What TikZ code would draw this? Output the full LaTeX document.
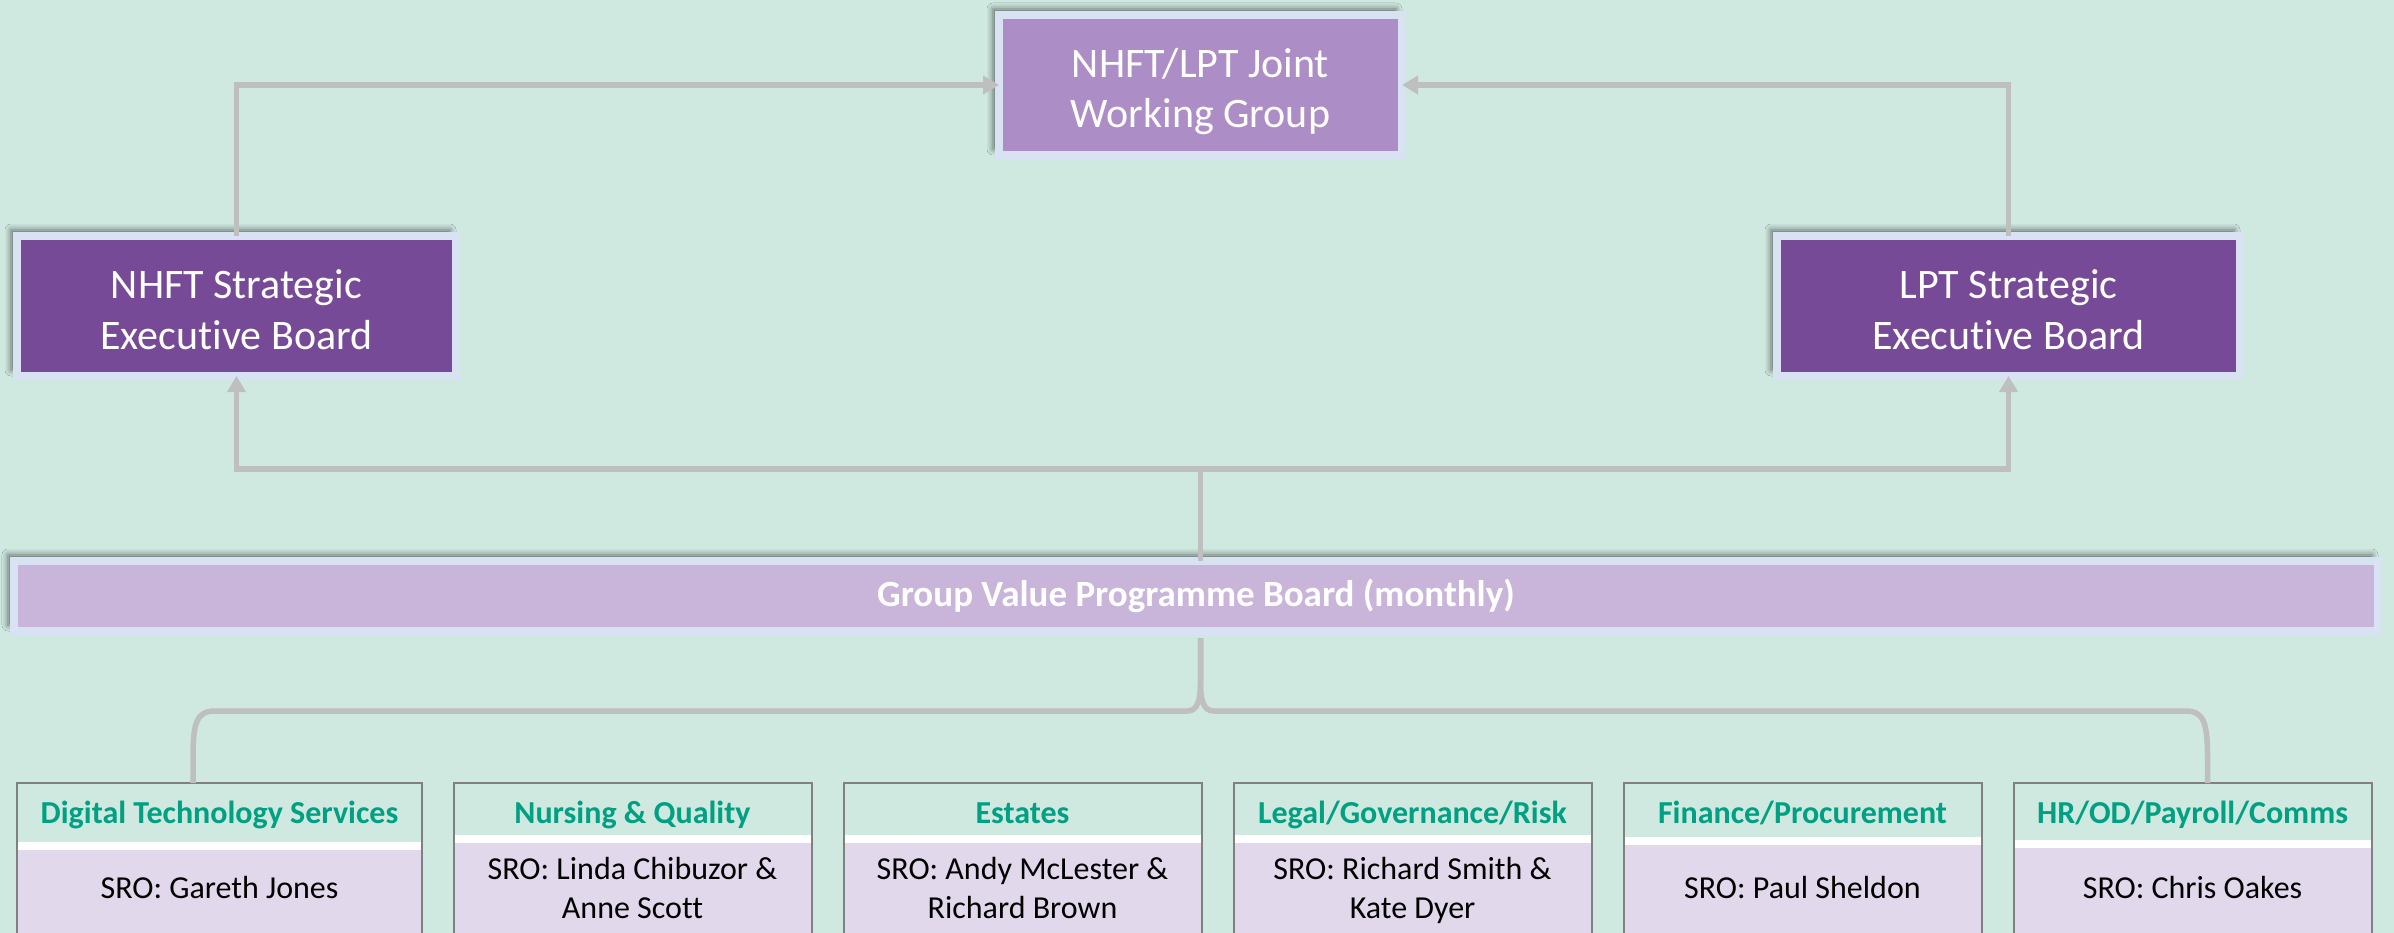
\documentclass[tikz,border=0pt]{standalone}
\usepackage{fontspec}
\setmainfont{Carlito}[Ligatures={TeX,NoCommon}]
\usetikzlibrary{arrows.meta,shadows.blur,calc}

\definecolor{canvasbg}{HTML}{CFE8E0}
\definecolor{rim}{HTML}{D9E2F3}
\definecolor{jointfill}{HTML}{AD8DC6}
\definecolor{execfill}{HTML}{764A96}
\definecolor{gvpfill}{HTML}{C9B4DA}
\definecolor{panefill}{HTML}{E2D8EC}
\definecolor{linkgray}{HTML}{BFBFBF}
\definecolor{framegray}{HTML}{808080}
\definecolor{headteal}{HTML}{00A082}

% fixed line box for the large board titles
\newcommand{\titlestrut}{\rule[-7pt]{0pt}{50pt}}

\begin{document}
\begin{tikzpicture}[x=1pt,y=-1pt,
  board/.style={draw=rim, line width=8pt, outer sep=0pt, inner sep=0pt,
    align=center, text=white,
    blur shadow={shadow xshift=-6pt, shadow yshift=6pt,
      shadow blur radius=6pt, shadow opacity=55}},
  bigtext/.style={font=\fontsize{42}{50}\selectfont},
  link/.style={draw=linkgray, line width=5.5pt},
  pointer/.style={-{Triangle[length=16pt,width=18pt]}},
  pane/.style={draw=framegray, line width=2pt, outer sep=0pt,
    minimum height=180pt,
    path picture={
      \fill[white] ($(path picture bounding box.north west)+(0,#1)$)
        rectangle (path picture bounding box.south east);
      \fill[panefill] ($(path picture bounding box.north west)+(0,#1+8)$)
        rectangle (path picture bounding box.south east);
    }},
  headtext/.style={anchor=base, inner sep=0pt, text=headteal,
    font=\fontsize{32}{39}\selectfont\bfseries},
  bodytext/.style={anchor=center, inner sep=0pt, align=center, text=black,
    font=\fontsize{32}{39}\selectfont}
]
\useasboundingbox (0,0) rectangle (2394,933);
\fill[canvasbg] (0,0) rectangle (2394,933);
\clip (0,0) rectangle (2394,933);

% governance boards
\node[board, bigtext, fill=jointfill, minimum width=403pt, minimum height=140pt]
  (jwg) at (1200.5,85) {\titlestrut NHFT/LPT Joint\\\titlestrut Working Group};
\node[board, bigtext, fill=execfill, minimum width=439pt, minimum height=140pt]
  (nhft) at (236.5,306) {\titlestrut NHFT Strategic\\\titlestrut Executive Board};
\node[board, bigtext, fill=execfill, minimum width=463pt, minimum height=140pt]
  (lpt) at (2008.5,306) {\titlestrut LPT Strategic\\\titlestrut Executive Board};
\node[board, fill=gvpfill, minimum width=2364pt, minimum height=70pt,
  font=\fontsize{37}{44}\selectfont\bfseries]
  (gvp) at (1196,596) {Group Value Programme Board (monthly)};

% workstream panes
\node[pane=59, minimum width=405pt] (dts) at (219.5,873) {};
\node[pane=52, minimum width=358pt] (nq)  at (632.5,873) {};
\node[pane=52, minimum width=358pt] (est) at (1022.5,873) {};
\node[pane=52, minimum width=358pt] (lgr) at (1412.5,873) {};
\node[pane=54, minimum width=358pt] (fp)  at (1802.5,873) {};
\node[pane=57, minimum width=358pt] (hr)  at (2192.5,873) {};

\node[headtext] (dtsh) at ($(dts.north)+(0,40)$) {Digital Technology Services};
\node[headtext] (nqh)  at ($(nq.north)+(0,40)$)  {Nursing \& Quality};
\node[headtext] (esth) at ($(est.north)+(0,40)$) {Estates};
\node[headtext] (lgrh) at ($(lgr.north)+(0,40)$) {Legal/Governance/Risk};
\node[headtext] (fph)  at ($(fp.north)+(0,40)$)  {Finance/Procurement};
\node[headtext] (hrh)  at ($(hr.north)+(0,40)$)  {HR/OD/Payroll/Comms};

\node[bodytext] (dtsb) at ($(dts.north)+(0,108)$) {\strut SRO: Gareth Jones};
\node[bodytext] (nqb)  at ($(nq.north)+(0,108)$)  {\strut SRO: Linda Chibuzor \&\\\strut Anne Scott};
\node[bodytext] (estb) at ($(est.north)+(0,108)$) {\strut SRO: Andy McLester \&\\\strut Richard Brown};
\node[bodytext] (lgrb) at ($(lgr.north)+(0,108)$) {\strut SRO: Richard Smith \&\\\strut Kate Dyer};
\node[bodytext] (fpb)  at ($(fp.north)+(0,108)$)  {\strut SRO: Paul Sheldon};
\node[bodytext] (hrb)  at ($(hr.north)+(0,108)$)  {\strut SRO: Chris Oakes};

% reporting lines
\coordinate (hub) at (1200.5,469);
\draw[link, pointer] (nhft.north) |- (jwg.west);
\draw[link, pointer] (lpt.north) |- (jwg.east);
\draw[link] (gvp.north -| hub) -- (hub);
\draw[link, pointer] (hub) -| (nhft.south);
\draw[link, pointer] (hub) -| (lpt.south);

% brace down to the workstreams
\coordinate (cusp) at ($(gvp.south -| hub)+(0,7)$);
\coordinate (dtstap) at ($(dts.north west)+(176,0)$);
\coordinate (hrtap) at ($(hr.north west)+(194,0)$);
\draw[link] (dtstap) -- ($(dtstap)+(0,-26)$)
  .. controls ($(dtstap)+(0,-61)$) and ($(dtstap)+(4,-72)$) .. ($(dtstap)+(22,-72)$)
  -- ($(cusp)+(-13,73)$)
  .. controls ($(cusp)+(-3,73)$) and ($(cusp)+(0,62)$) .. ($(cusp)+(0,45)$)
  -- (cusp);
\draw[link] (cusp) -- ($(cusp)+(0,45)$)
  .. controls ($(cusp)+(0,62)$) and ($(cusp)+(3,73)$) .. ($(cusp)+(13,73)$)
  -- ($(hrtap)+(-22,-72)$)
  .. controls ($(hrtap)+(-4,-72)$) and ($(hrtap)+(0,-61)$) .. ($(hrtap)+(0,-26)$)
  -- (hrtap);
\end{tikzpicture}
\end{document}
